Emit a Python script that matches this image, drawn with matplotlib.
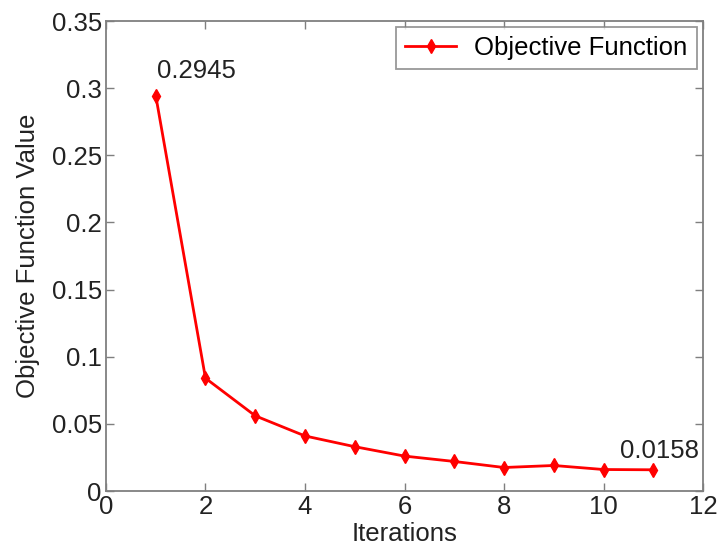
import matplotlib
matplotlib.use("Agg")
import matplotlib.pyplot as plt

plt.rcParams['font.family'] = ['Liberation Sans', 'DejaVu Sans']

# data
iterations = [1, 2, 3, 4, 5, 6, 7, 8, 9, 10, 11]
objective = [0.2945, 0.084, 0.056, 0.041, 0.033, 0.026, 0.022, 0.0175, 0.019, 0.016, 0.0158]

FS = 18.5
fig = plt.figure(figsize=(7.22, 5.56), dpi=100)
ax = fig.add_axes([0.1468, 0.1169, 0.8269, 0.8453])

ax.plot(iterations, objective, color='red', linewidth=2, marker='d',
        markersize=7, label='Objective Function')

ax.text(1.02, 0.3075, f"{objective[0]:.4f}", fontsize=FS, color='#222222')
ax.text(10.33, 0.0246, f"{objective[-1]:.4f}", fontsize=FS, color='#222222')

ax.set_xlim(0, 12)
ax.set_ylim(0, 0.35)
ax.set_xticks(range(0, 13, 2))
ax.set_yticks([0, 0.05, 0.1, 0.15, 0.2, 0.25, 0.3, 0.35])
ax.set_yticklabels(['0', '0.05', '0.1', '0.15', '0.2', '0.25', '0.3', '0.35'])
ax.tick_params(direction='in', top=True, right=True, labelsize=FS,
               length=6, width=1, color='#7f7f7f', labelcolor='#222222', pad=3)
for s in ax.spines.values():
    s.set_color('#7f7f7f')
    s.set_linewidth(1.3)

ax.set_xlabel('Iterations', fontsize=FS, color='#222222', labelpad=2)
ax.set_ylabel('Objective Function Value', fontsize=FS, color='#222222', labelpad=8)

leg = ax.legend(loc='upper right', fontsize=FS, fancybox=False,
                edgecolor='#7f7f7f', handlelength=2.0, handletextpad=0.7,
                borderpad=0.35, borderaxespad=0.25)
leg.get_frame().set_linewidth(1.3)

fig.savefig('out.png', dpi=100)
